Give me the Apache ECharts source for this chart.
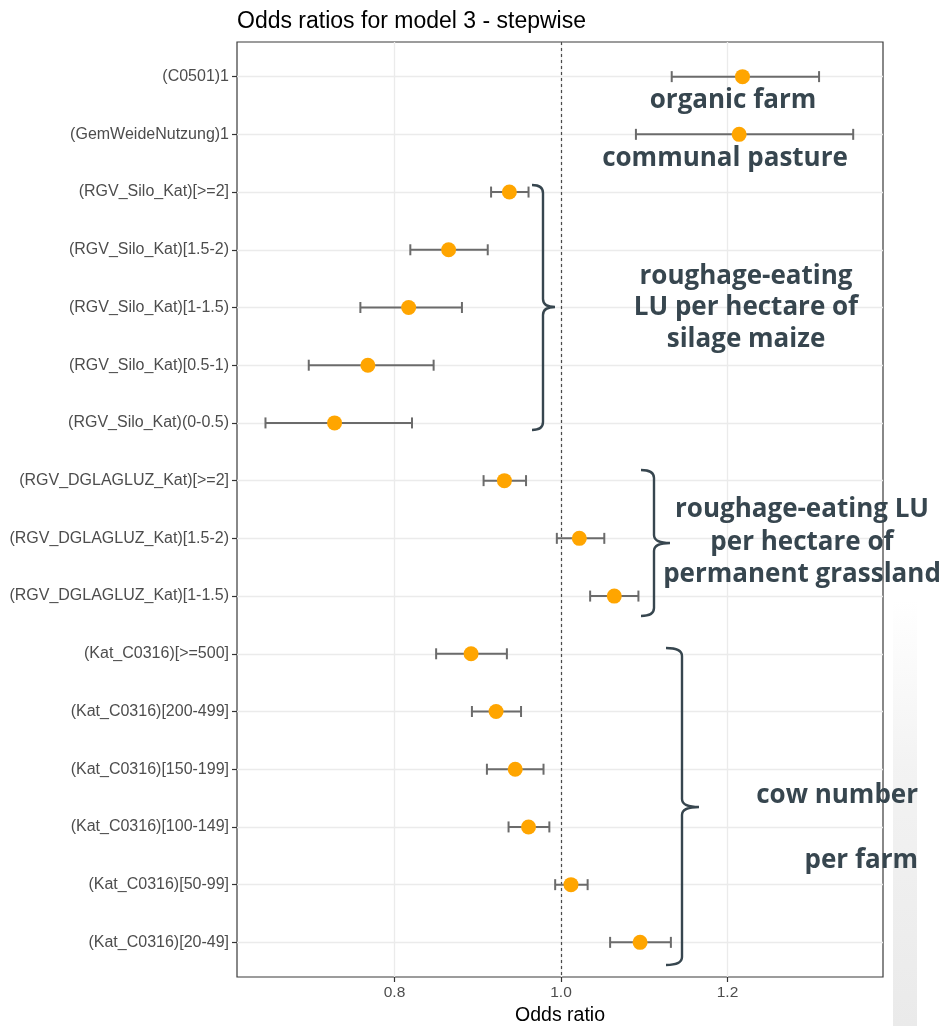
<!DOCTYPE html>
<html>
<head>
<meta charset="utf-8">
<script src="https://cdn.jsdelivr.net/npm/echarts@6/dist/echarts.min.js"></script>
<style>
  html, body { margin: 0; padding: 0; background: #ffffff; }
  #chart { width: 947px; height: 1026px; }
</style>
</head>
<body>
<div id="chart"></div>
<script>
// Model terms, top to bottom
const terms = [
  '(C0501)1',
  '(GemWeideNutzung)1',
  '(RGV_Silo_Kat)[>=2]',
  '(RGV_Silo_Kat)[1.5-2)',
  '(RGV_Silo_Kat)[1-1.5)',
  '(RGV_Silo_Kat)[0.5-1)',
  '(RGV_Silo_Kat)(0-0.5)',
  '(RGV_DGLAGLUZ_Kat)[>=2]',
  '(RGV_DGLAGLUZ_Kat)[1.5-2)',
  '(RGV_DGLAGLUZ_Kat)[1-1.5)',
  '(Kat_C0316)[>=500]',
  '(Kat_C0316)[200-499]',
  '(Kat_C0316)[150-199]',
  '(Kat_C0316)[100-149]',
  '(Kat_C0316)[50-99]',
  '(Kat_C0316)[20-49]'
];

// Odds ratio estimates and 95% confidence limits
const oddsRatio = [1.218, 1.214, 0.938, 0.865, 0.817, 0.768, 0.728, 0.932, 1.022, 1.064, 0.892, 0.922, 0.945, 0.961, 1.012, 1.095];
const ciLower   = [1.133, 1.090, 0.916, 0.819, 0.759, 0.697, 0.645, 0.907, 0.995, 1.035, 0.850, 0.893, 0.911, 0.937, 0.993, 1.059];
const ciUpper   = [1.310, 1.351, 0.961, 0.912, 0.881, 0.847, 0.821, 0.958, 1.052, 1.093, 0.935, 0.952, 0.979, 0.986, 1.032, 1.132];

// Axis ticks
const xTicks = [0.8, 1.0, 1.2];
const xRange = [0.6108, 1.3868];

const rows = terms.map((_, i) => i);

const chart = echarts.init(document.getElementById('chart'), null, { renderer: 'canvas' });

const AXIS_FONT = 'Liberation Sans';
const NOTE_COLOR = '#37464f';
const NOTE_FONT = 'bold 26px "Open Sans"';

function renderErrorBar(params, api) {
  const lo = api.coord([api.value(0), api.value(2)]);
  const hi = api.coord([api.value(1), api.value(2)]);
  const cap = 5.5;
  const style = { stroke: '#6b6b6b', lineWidth: 2 };
  return {
    type: 'group',
    children: [
      { type: 'line', shape: { x1: lo[0], y1: lo[1], x2: hi[0], y2: hi[1] }, style },
      { type: 'line', shape: { x1: lo[0], y1: lo[1] - cap, x2: lo[0], y2: lo[1] + cap }, style },
      { type: 'line', shape: { x1: hi[0], y1: hi[1] - cap, x2: hi[0], y2: hi[1] + cap }, style }
    ]
  };
}

// Group braces: stem x, hook x, tip x, top y, middle y, bottom y (pixels)
const braceLayout = [
  [543, 532, 555, 185, 307, 430],
  [654, 641, 670, 470, 543, 616],
  [682, 666, 699, 648, 807, 965]
];

// Curly brace "}" path: vertical stem at x, hooks to the left, tip to the right at mid
function bracePath(b) {
  const [x, hook, tip, top, mid, bot] = b;
  const r = 8;
  return 'M' + hook + ',' + top +
    ' Q' + x + ',' + top + ' ' + x + ',' + (top + r) +
    ' L' + x + ',' + (mid - r) +
    ' Q' + x + ',' + mid + ' ' + tip + ',' + mid +
    ' Q' + x + ',' + mid + ' ' + x + ',' + (mid + r) +
    ' L' + x + ',' + (bot - r) +
    ' Q' + x + ',' + bot + ' ' + hook + ',' + bot;
}

function renderBrace(params) {
  return {
    type: 'path',
    shape: { pathData: bracePath(braceLayout[params.dataIndex]) },
    style: { stroke: NOTE_COLOR, lineWidth: 2.4, fill: null }
  };
}

function note(text, x, y, align) {
  return {
    type: 'text',
    x: x, y: y,
    style: {
      text: text,
      font: NOTE_FONT,
      fill: NOTE_COLOR,
      textAlign: align || 'center',
      textVerticalAlign: 'middle'
    },
    z: 60
  };
}

const option = {
  animation: false,
  backgroundColor: '#ffffff',
  title: {
    text: 'Odds ratios for model 3 - stepwise',
    left: 237,
    top: 10,
    padding: 0,
    textStyle: { fontFamily: AXIS_FONT, fontWeight: 'normal', fontSize: 23, color: '#000000' }
  },
  grid: {
    left: 237, right: 64, top: 42, bottom: 49,
    outerBoundsMode: 'none',
    containLabel: false,
    show: true, borderColor: '#3a3a3a', borderWidth: 1.2, backgroundColor: 'transparent'
  },
  xAxis: {
    type: 'value',
    min: xRange[0],
    max: xRange[1],
    name: 'Odds ratio',
    nameLocation: 'middle',
    nameGap: 28,
    nameTextStyle: { fontFamily: AXIS_FONT, fontSize: 19.5, color: '#000000' },
    axisLine: { show: false, onZero: false },
    axisTick: { show: true, length: 5, customValues: xTicks, lineStyle: { color: '#333333', width: 1.2 } },
    axisLabel: {
      customValues: xTicks,
      formatter: v => v.toFixed(1),
      fontFamily: AXIS_FONT, fontSize: 15.5, color: '#4d4d4d', margin: 8
    },
    splitLine: { show: true, lineStyle: { color: '#ebebeb', width: 1.3 } }
  },
  yAxis: {
    type: 'value',
    inverse: true,
    min: -0.6,
    max: terms.length - 0.4,
    axisLine: { show: false, onZero: false },
    axisTick: { show: true, length: 5, customValues: rows, lineStyle: { color: '#333333', width: 1.2 } },
    axisLabel: {
      customValues: rows,
      formatter: v => terms[Math.round(v)],
      fontFamily: AXIS_FONT, fontSize: 16, color: '#4d4d4d', margin: 8
    },
    splitLine: { show: true, lineStyle: { color: '#ebebeb', width: 1.3 } }
  },
  series: [
    {
      type: 'custom',
      renderItem: renderErrorBar,
      data: rows.map(i => [ciLower[i], ciUpper[i], i]),
      encode: { x: [0, 1], y: 2 },
      z: 3,
      silent: true
    },
    {
      type: 'scatter',
      data: rows.map(i => [oddsRatio[i], i]),
      symbolSize: 15,
      itemStyle: { color: '#FFA500', opacity: 1 },
      z: 4,
      silent: true,
      markLine: {
        silent: true,
        symbol: 'none',
        label: { show: false },
        lineStyle: { type: [3, 3], color: '#4a4a4a', width: 1.2 },
        data: [{ xAxis: 1 }],
        z: 2
      }
    },
    {
      type: 'custom',
      renderItem: renderBrace,
      data: braceLayout.map((_, i) => [1, i]),
      z: 5,
      silent: true,
      clip: false
    }
  ],
  graphic: [
    // faint shading strip on the right margin
    {
      type: 'rect',
      shape: { x: 893, y: 600, width: 24, height: 426 },
      style: {
        fill: {
          type: 'linear', x: 0, y: 0, x2: 0, y2: 1,
          colorStops: [
            { offset: 0, color: 'rgba(234,234,234,0)' },
            { offset: 0.4, color: 'rgba(234,234,234,0.6)' },
            { offset: 1, color: 'rgba(234,234,234,1)' }
          ]
        }
      },
      z: 0
    },
    note('organic farm', 733, 101),
    note('communal pasture', 725, 159),
    note('roughage-eating', 746, 277),
    note('LU per hectare of', 746, 308),
    note('silage maize', 746, 340),
    note('roughage-eating LU', 802, 510),
    note('per hectare of', 802, 543),
    note('permanent grassland', 802, 575),
    note('cow number', 918, 796, 'right'),
    note('per farm', 918, 861, 'right')
  ]
};

chart.setOption(option);
</script>
</body>
</html>
